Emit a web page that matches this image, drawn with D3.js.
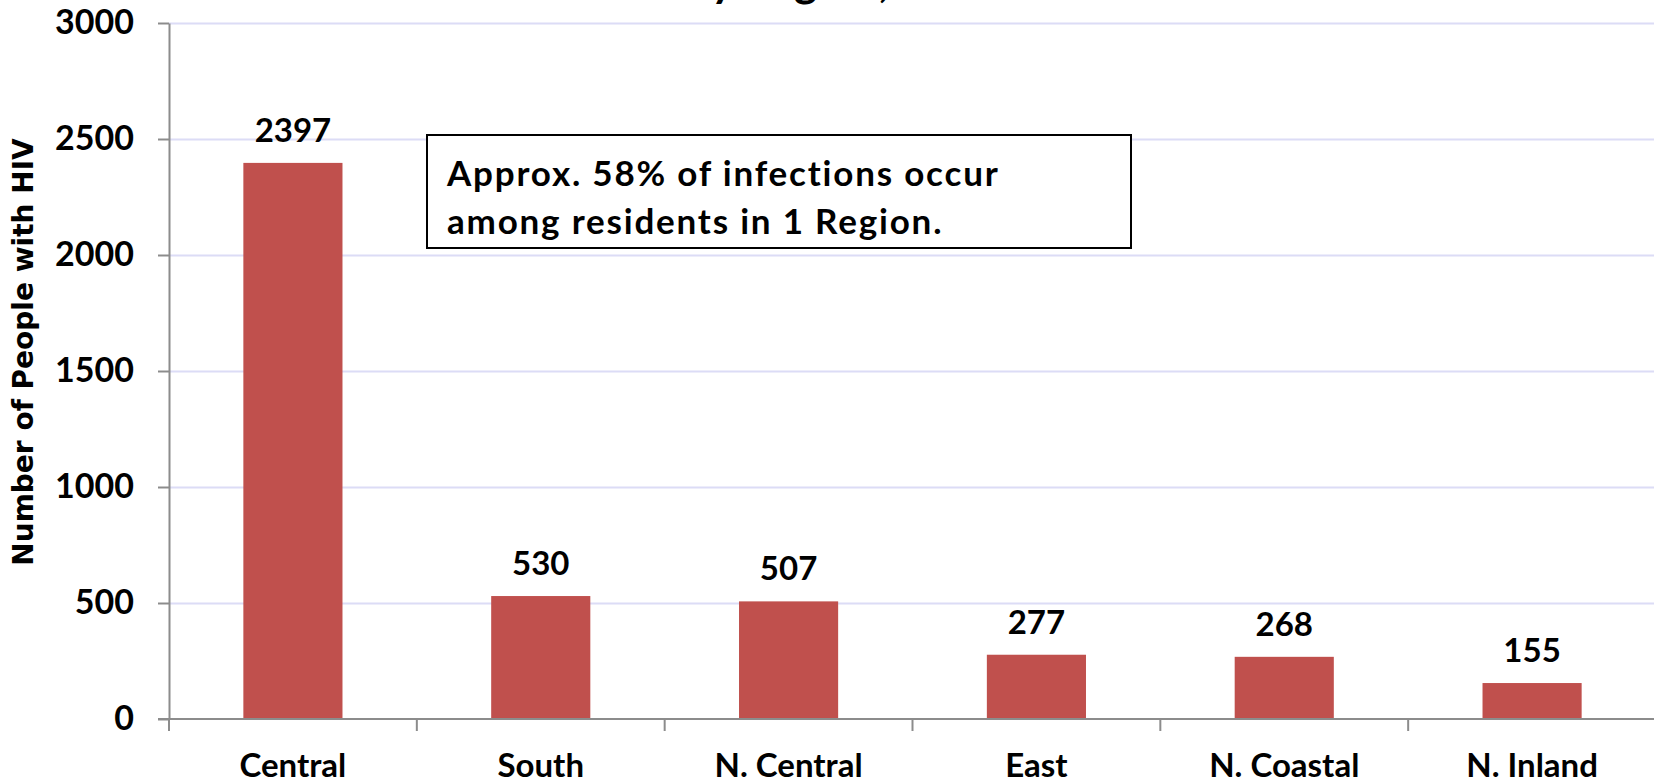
<!DOCTYPE html>
<html>
<head>
<meta charset="utf-8">
<script src="https://cdn.jsdelivr.net/npm/d3@7"></script>
<style>
  html, body { margin: 0; padding: 0; background: #fff; }
  svg { display: block; }
</style>
</head>
<body>
<div id="chart"></div>
<script>
// chart data
const regions = ["Central", "South", "N. Central", "East", "N. Coastal", "N. Inland"];
const peopleWithHIV = [2397, 530, 507, 277, 268, 155];
const yTicks = [0, 500, 1000, 1500, 2000, 2500, 3000];
const titleText = "Persons with HIV by Region, 2011";
const noteLines = ["Approx. 58% of infections occur", "among residents in 1 Region."];

const W = 1654, H = 781;
const plotLeft = 169, plotRight = 1656, plotTop = 23, plotBottom = 719;
const labelFont = "Lato, 'Open Sans', sans-serif";

const svg = d3.select("#chart").append("svg")
  .attr("width", W)
  .attr("height", H);

// scales
const x = d3.scaleBand()
  .domain(regions)
  .range([plotLeft, plotRight])
  .paddingInner(0.6)
  .paddingOuter(0.3);

const y = d3.scaleLinear()
  .domain([0, 3000])
  .range([plotBottom, plotTop]);

// gridlines
svg.append("g")
  .attr("transform", "translate(" + plotLeft + ",0)")
  .call(d3.axisLeft(y).tickValues(yTicks.slice(1)).tickSize(-(W - plotLeft)).tickFormat(""))
  .call(g => g.select(".domain").remove())
  .call(g => g.selectAll("line").attr("stroke", "#dcdcf6").attr("stroke-width", 2));

// title (only its lowest part falls inside the picture)
const title = svg.append("text")
  .attr("x", 0)
  .attr("y", -3)
  .attr("font-family", labelFont)
  .attr("font-weight", 700)
  .attr("font-size", 44)
  .attr("fill", "#000")
  .text(titleText);

function placeTitle() {
  // centre the "y" of "by" at x = 722
  const yIdx = titleText.indexOf("by") + 1;
  title.attr("x", 0);
  const box = title.node().getExtentOfChar(yIdx);
  title.attr("x", 722 - (box.x + box.width / 2));
}
placeTitle();
document.fonts.load("700 44px Lato").then(placeTitle);

// bars
svg.selectAll("rect.bar")
  .data(peopleWithHIV)
  .enter()
  .append("rect")
  .attr("class", "bar")
  .attr("x", (d, i) => x(regions[i]))
  .attr("y", d => y(d))
  .attr("width", x.bandwidth())
  .attr("height", d => y(0) - y(d))
  .attr("fill", "#c0504d");

// value labels
svg.selectAll("text.value")
  .data(peopleWithHIV)
  .enter()
  .append("text")
  .attr("class", "value")
  .attr("x", (d, i) => x(regions[i]) + x.bandwidth() / 2)
  .attr("y", d => y(d) - 21)
  .attr("text-anchor", "middle")
  .attr("font-family", labelFont)
  .attr("font-weight", 700)
  .attr("font-size", 33)
  .text(d => d);

// y axis
svg.append("g")
  .attr("transform", "translate(" + plotLeft + ",0)")
  .call(d3.axisLeft(y).tickValues(yTicks).tickFormat(d3.format("d"))
    .tickSize(11).tickPadding(24).tickSizeOuter(0))
  .call(g => g.select(".domain").attr("stroke", "#8c8c8c").attr("stroke-width", 2))
  .call(g => g.selectAll("line").attr("stroke", "#8c8c8c").attr("stroke-width", 2))
  .call(g => g.selectAll("text")
    .attr("font-family", labelFont)
    .attr("font-weight", 700)
    .attr("font-size", 34)
    .attr("fill", "#000"));

// x axis line and ticks between categories
const xAxis = svg.append("g");
xAxis.append("line")
  .attr("x1", plotLeft - 11).attr("x2", W)
  .attr("y1", y(0)).attr("y2", y(0))
  .attr("stroke", "#8c8c8c").attr("stroke-width", 2);
xAxis.selectAll("line.tick")
  .data(d3.range(regions.length + 1))
  .enter()
  .append("line")
  .attr("class", "tick")
  .attr("x1", i => x.range()[0] + i * x.step())
  .attr("x2", i => x.range()[0] + i * x.step())
  .attr("y1", y(0))
  .attr("y2", y(0) + 12)
  .attr("stroke", "#8c8c8c").attr("stroke-width", 2);
xAxis.selectAll("text")
  .data(regions)
  .enter()
  .append("text")
  .attr("x", d => x(d) + x.bandwidth() / 2)
  .attr("y", y(0) + 58)
  .attr("text-anchor", "middle")
  .attr("font-family", labelFont)
  .attr("font-weight", 700)
  .attr("font-size", 33)
  .text(d => d);

// y axis title
svg.append("text")
  .attr("transform", "translate(33,352) rotate(-90)")
  .attr("text-anchor", "middle")
  .attr("font-family", "'DejaVu Sans', sans-serif")
  .attr("font-weight", 700)
  .attr("font-size", 28)
  .text("Number of People with HIV");

// annotation box
svg.append("rect")
  .attr("x", 427).attr("y", 135)
  .attr("width", 704).attr("height", 113)
  .attr("fill", "#fff")
  .attr("stroke", "#000")
  .attr("stroke-width", 2);

svg.selectAll("text.note")
  .data(noteLines)
  .enter()
  .append("text")
  .attr("class", "note")
  .attr("x", 447)
  .attr("y", (d, i) => 186 + i * 48)
  .attr("font-family", labelFont)
  .attr("font-weight", 700)
  .attr("font-size", 35)
  .attr("letter-spacing", 1.8)
  .text(d => d);
</script>
</body>
</html>
